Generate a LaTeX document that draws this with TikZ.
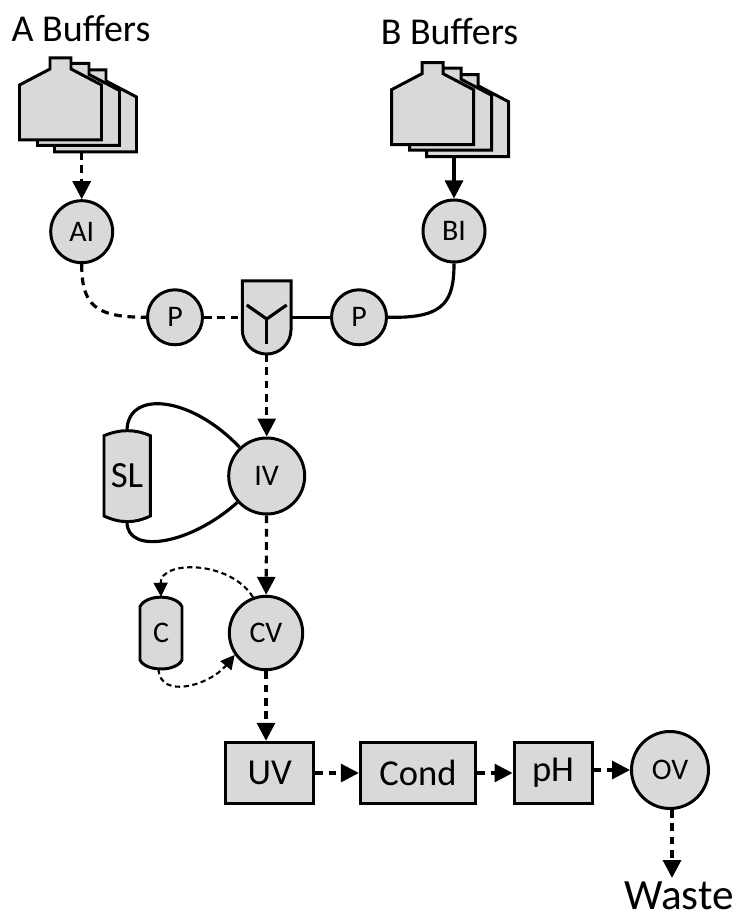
\documentclass[tikz,border=0pt]{standalone}
\usepackage{fontspec}
\setmainfont{Carlito}
\usetikzlibrary{arrows.meta}
\definecolor{unitgray}{RGB}{217,217,217}
\tikzset{
  unit/.style={draw=black,fill=unitgray,line width=0.85pt,inner sep=0pt},
  valve/.style={unit,circle,font=\fontsize{8.5}{10}\selectfont},
  line/.style={line width=0.9pt},
  dashline/.style={line,dash pattern=on 2.2pt off 1.6pt},
  flow/.style={line,-{Triangle[length=1.8mm,width=1.8mm]}},
  dashflow/.style={flow,dash pattern=on 2.2pt off 1.6pt},
  thinflow/.style={line width=0.6pt,dash pattern=on 1.5pt off 1pt,-{Triangle[length=1.4mm,width=1.4mm]}},
  detector/.style={unit,rectangle,minimum height=0.614cm,font=\fontsize{10.4}{12}\selectfont},
  title/.style={anchor=base,inner sep=0pt,font=\fontsize{10.8}{12}\selectfont}
}
\newcommand{\bottle}[2]{
\draw[unit,shift={(#1,#2)}] (0.195,-1.40) -- (0.195,-0.85) -- (0.50,-0.69) -- (0.50,-0.58) -- (0.71,-0.58)
  -- (0.71,-0.69) -- (1.015,-0.85) -- (1.015,-1.40) -- cycle;
}
\begin{document}
\begin{tikzpicture}
\useasboundingbox (0,0) rectangle (7.4,-9.16);

% A buffers
\bottle{0.35}{-0.12}
\bottle{0.18}{-0.055}
\bottle{0}{0}
% B buffers
\bottle{4.07}{-0.167}
\bottle{3.90}{-0.102}
\bottle{3.72}{-0.047}

\node[title] (labelA) at (0.81,-0.417) {A Buffers};
\node[title] (labelB) at (4.495,-0.443) {B Buffers};
\coordinate (bottleA) at (0.817,-1.52);
\coordinate (bottleB) at (4.54,-1.57);

\node[valve,minimum size=0.62cm] (AI) at (0.817,-2.317) {AI};
\node[valve,minimum size=0.62cm] (BI) at (4.54,-2.31) {BI};
\node[valve,minimum size=0.55cm] (P1) at (1.75,-3.173) {P};
\node[valve,minimum size=0.55cm] (P2) at (3.59,-3.173) {P};
\node[valve,minimum size=0.76cm] (IV) at (2.667,-4.76) {IV};
\node[valve,minimum size=0.734cm] (CV) at (2.66,-6.33) {CV};
\node[valve,minimum size=0.77cm] (OV) at (6.70,-7.70) {OV};

% mixer
\draw[unit] (2.423,-2.81) -- (2.91,-2.81) -- (2.91,-3.297) arc (0:-180:0.2435) -- cycle;
\draw[line] (2.467,-3.05) -- (2.667,-3.19) -- (2.867,-3.05);
\draw[line] (2.667,-3.19) -- (2.667,-3.44);
\coordinate (mixL) at (2.423,-3.173);
\coordinate (mixR) at (2.91,-3.173);
\coordinate (mixB) at (2.667,-3.54);

% columns
\draw[unit] (1.04,-4.357) .. controls (1.2,-4.29) and (1.35,-4.29) .. (1.503,-4.357) -- (1.503,-5.16)
  .. controls (1.35,-5.235) and (1.2,-5.235) .. (1.04,-5.16) -- cycle;
\node[font=\fontsize{10.5}{12}\selectfont] (SL) at (1.27,-4.76) {SL};
\coordinate (SLt) at (1.27,-4.31);
\coordinate (SLb) at (1.27,-5.22);
\draw[unit] (1.40,-6.067) .. controls (1.46,-5.94) and (1.76,-5.94) .. (1.82,-6.067) -- (1.82,-6.60)
  .. controls (1.76,-6.72) and (1.46,-6.72) .. (1.40,-6.60) -- cycle;
\node[font=\fontsize{8.5}{10}\selectfont] (C) at (1.61,-6.33) {C};
\coordinate (Ct) at (1.61,-5.967);
\coordinate (Cb) at (1.585,-6.69);

\node[detector,minimum width=0.88cm] (UV) at (2.697,-7.73) {UV};
\node[detector,minimum width=1.154cm] (Cond) at (4.18,-7.73) {Cond};
\node[detector,minimum width=0.78cm] (pH) at (5.53,-7.73) {pH};
\node[anchor=base,inner sep=0pt,font=\fontsize{12.3}{14}\selectfont] (Waste) at (6.79,-9.09) {Waste};
\coordinate (wasteIn) at (6.72,-8.78);

\draw[dashflow] (bottleA) -- (AI);
\draw[flow] (bottleB) -- (BI);
\draw[dashline] (AI) .. controls (0.817,-3.05) and (0.95,-3.173) .. (P1);
\draw[dashline] (P1) -- (mixL);
\draw[line] (mixR) -- (P2);
\draw[line] (P2) -- (3.95,-3.173) .. controls (4.45,-3.173) and (4.54,-3.0) .. (BI);
\draw[dashflow] (mixB) -- (IV);
\draw[line] (SLt) .. controls (1.27,-3.9) and (1.9,-3.95) .. (IV);
\draw[line] (SLb) .. controls (1.27,-5.55) and (1.9,-5.45) .. (IV);
\draw[dashflow] (IV) -- (CV);
\draw[thinflow] (CV.110) .. controls (2.3,-5.6) and (1.6,-5.6) .. (Ct);
\draw[thinflow] (Cb) .. controls (1.6,-7.0) and (2.1,-6.85) .. (CV.215);
\draw[dashflow] (CV) -- (CV |- UV.north);
\draw[dashflow] (UV) -- (Cond);
\draw[dashflow] (Cond) -- (pH);
\draw[dashflow] (pH.east |- OV) -- (OV);
\draw[dashflow] (OV.south -| wasteIn) -- (wasteIn);
\end{tikzpicture}
\end{document}
